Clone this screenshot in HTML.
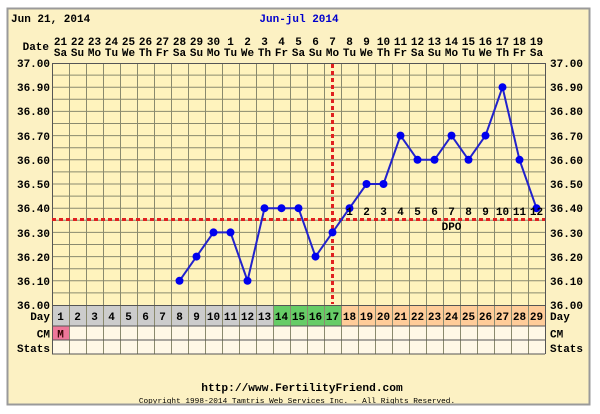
<!DOCTYPE html>
<html><head><meta charset="utf-8"><style>
html,body{margin:0;padding:0;background:#fff;}
svg{display:block;}
text{font-family:"Liberation Mono",monospace;font-weight:bold;font-size:11px;fill:#000;}
.c{text-anchor:middle;}
.r{text-anchor:end;}
</style></head><body>
<svg width="600" height="414" viewBox="0 0 600 414" xmlns="http://www.w3.org/2000/svg">
<rect x="0" y="0" width="600" height="414" fill="#fff"/>
<rect x="7.5" y="8.5" width="582" height="396" fill="#FCF1C3" stroke="#9a9a9a" stroke-width="2"/>
<text x="11" y="22">Jun 21, 2014</text>
<text x="299" y="22" class="c" style="fill:#0000CC">Jun-jul 2014</text>
<text x="49" y="50" class="r">Date</text>
<g class="c">
<text x="60.5" y="45" class="c">21</text><text x="77.5" y="45" class="c">22</text><text x="94.5" y="45" class="c">23</text><text x="111.5" y="45" class="c">24</text><text x="128.5" y="45" class="c">25</text><text x="145.5" y="45" class="c">26</text><text x="162.5" y="45" class="c">27</text><text x="179.5" y="45" class="c">28</text><text x="196.5" y="45" class="c">29</text><text x="213.5" y="45" class="c">30</text><text x="230.5" y="45" class="c">1</text><text x="247.5" y="45" class="c">2</text><text x="264.5" y="45" class="c">3</text><text x="281.5" y="45" class="c">4</text><text x="298.5" y="45" class="c">5</text><text x="315.5" y="45" class="c">6</text><text x="332.5" y="45" class="c">7</text><text x="349.5" y="45" class="c">8</text><text x="366.5" y="45" class="c">9</text><text x="383.5" y="45" class="c">10</text><text x="400.5" y="45" class="c">11</text><text x="417.5" y="45" class="c">12</text><text x="434.5" y="45" class="c">13</text><text x="451.5" y="45" class="c">14</text><text x="468.5" y="45" class="c">15</text><text x="485.5" y="45" class="c">16</text><text x="502.5" y="45" class="c">17</text><text x="519.5" y="45" class="c">18</text><text x="536.5" y="45" class="c">19</text>
<text x="60.5" y="56" class="c">Sa</text><text x="77.5" y="56" class="c">Su</text><text x="94.5" y="56" class="c">Mo</text><text x="111.5" y="56" class="c">Tu</text><text x="128.5" y="56" class="c">We</text><text x="145.5" y="56" class="c">Th</text><text x="162.5" y="56" class="c">Fr</text><text x="179.5" y="56" class="c">Sa</text><text x="196.5" y="56" class="c">Su</text><text x="213.5" y="56" class="c">Mo</text><text x="230.5" y="56" class="c">Tu</text><text x="247.5" y="56" class="c">We</text><text x="264.5" y="56" class="c">Th</text><text x="281.5" y="56" class="c">Fr</text><text x="298.5" y="56" class="c">Sa</text><text x="315.5" y="56" class="c">Su</text><text x="332.5" y="56" class="c">Mo</text><text x="349.5" y="56" class="c">Tu</text><text x="366.5" y="56" class="c">We</text><text x="383.5" y="56" class="c">Th</text><text x="400.5" y="56" class="c">Fr</text><text x="417.5" y="56" class="c">Sa</text><text x="434.5" y="56" class="c">Su</text><text x="451.5" y="56" class="c">Mo</text><text x="468.5" y="56" class="c">Tu</text><text x="485.5" y="56" class="c">We</text><text x="502.5" y="56" class="c">Th</text><text x="519.5" y="56" class="c">Fr</text><text x="536.5" y="56" class="c">Sa</text>
</g>
<rect x="52" y="63" width="493" height="242" fill="#FFF3BD"/>
<rect x="52" y="305" width="221" height="21" fill="#CCCCCC"/>
<rect x="273" y="305" width="68" height="21" fill="#66CC66"/>
<rect x="341" y="305" width="204" height="21" fill="#FFCC99"/>
<rect x="52" y="326" width="493" height="28" fill="#FFF8E6"/>
<rect x="52" y="326" width="17" height="14" fill="#EE7799"/>
<g stroke="#8a8a6e" stroke-width="1">
<path d="M52 75.1H545M52 87.2H545M52 99.3H545M52 111.4H545M52 123.5H545M52 135.6H545M52 147.7H545M52 159.8H545M52 171.9H545M52 184H545M52 196.1H545M52 208.2H545M52 220.3H545M52 232.4H545M52 244.5H545M52 256.6H545M52 268.7H545M52 280.8H545M52 292.9H545"/>
<path d="M69.5 63V354M86.5 63V354M103.5 63V354M120.5 63V354M137.5 63V354M154.5 63V354M171.5 63V354M188.5 63V354M205.5 63V354M222.5 63V354M239.5 63V354M256.5 63V354M273.5 63V354M290.5 63V354M307.5 63V354M324.5 63V354M341.5 63V354M358.5 63V354M375.5 63V354M392.5 63V354M409.5 63V354M426.5 63V354M443.5 63V354M460.5 63V354M477.5 63V354M494.5 63V354M511.5 63V354M528.5 63V354"/>
</g>
<g stroke="#555" stroke-width="1" fill="none">
<path d="M52 63.5H545M52 305.5H545M52 326H545M52 340H545M52 354H545M52.5 63V354M545.5 63V354"/>
</g>
<g>
<text x="50" y="67" class="r">37.00</text><text x="50" y="91" class="r">36.90</text><text x="50" y="115" class="r">36.80</text><text x="50" y="140" class="r">36.70</text><text x="50" y="164" class="r">36.60</text><text x="50" y="188" class="r">36.50</text><text x="50" y="212" class="r">36.40</text><text x="50" y="237" class="r">36.30</text><text x="50" y="261" class="r">36.20</text><text x="50" y="285" class="r">36.10</text><text x="50" y="309" class="r">36.00</text>
<text x="550" y="67">37.00</text><text x="550" y="91">36.90</text><text x="550" y="115">36.80</text><text x="550" y="140">36.70</text><text x="550" y="164">36.60</text><text x="550" y="188">36.50</text><text x="550" y="212">36.40</text><text x="550" y="237">36.30</text><text x="550" y="261">36.20</text><text x="550" y="285">36.10</text><text x="550" y="309">36.00</text>
</g>
<path d="M52 219.5H545" stroke="#E02020" stroke-width="3" stroke-dasharray="4,3"/>
<path d="M332.5 64V304" stroke="#E02020" stroke-width="3" stroke-dasharray="4,3"/>
<polyline fill="none" stroke="#2222CC" stroke-width="2" points="179.5,280.8 196.5,256.6 213.5,232.4 230.5,232.4 247.5,280.8 264.5,208.2 281.5,208.2 298.5,208.2 315.5,256.6 332.5,232.4 349.5,208.2 366.5,184 383.5,184 400.5,135.6 417.5,159.8 434.5,159.8 451.5,135.6 468.5,159.8 485.5,135.6 502.5,87.2 519.5,159.8 536.5,208.2"/>
<g fill="#0000EE">
<circle cx="179.5" cy="280.8" r="4"/><circle cx="196.5" cy="256.6" r="4"/><circle cx="213.5" cy="232.4" r="4"/><circle cx="230.5" cy="232.4" r="4"/><circle cx="247.5" cy="280.8" r="4"/><circle cx="264.5" cy="208.2" r="4"/><circle cx="281.5" cy="208.2" r="4"/><circle cx="298.5" cy="208.2" r="4"/><circle cx="315.5" cy="256.6" r="4"/><circle cx="332.5" cy="232.4" r="4"/><circle cx="349.5" cy="208.2" r="4"/><circle cx="366.5" cy="184" r="4"/><circle cx="383.5" cy="184" r="4"/><circle cx="400.5" cy="135.6" r="4"/><circle cx="417.5" cy="159.8" r="4"/><circle cx="434.5" cy="159.8" r="4"/><circle cx="451.5" cy="135.6" r="4"/><circle cx="468.5" cy="159.8" r="4"/><circle cx="485.5" cy="135.6" r="4"/><circle cx="502.5" cy="87.2" r="4"/><circle cx="519.5" cy="159.8" r="4"/><circle cx="536.5" cy="208.2" r="4"/>
</g>
<g>
<text x="349.5" y="215" class="c">1</text><text x="366.5" y="215" class="c">2</text><text x="383.5" y="215" class="c">3</text><text x="400.5" y="215" class="c">4</text><text x="417.5" y="215" class="c">5</text><text x="434.5" y="215" class="c">6</text><text x="451.5" y="215" class="c">7</text><text x="468.5" y="215" class="c">8</text><text x="485.5" y="215" class="c">9</text><text x="502.5" y="215" class="c">10</text><text x="519.5" y="215" class="c">11</text><text x="536.5" y="215" class="c">12</text>
<text x="451.5" y="230" class="c">DPO</text>
</g>
<text x="50" y="320" class="r">Day</text>
<text x="50" y="337.5" class="r">CM</text>
<text x="50" y="352" class="r">Stats</text>
<g>
<text x="60.5" y="320" class="c">1</text><text x="77.5" y="320" class="c">2</text><text x="94.5" y="320" class="c">3</text><text x="111.5" y="320" class="c">4</text><text x="128.5" y="320" class="c">5</text><text x="145.5" y="320" class="c">6</text><text x="162.5" y="320" class="c">7</text><text x="179.5" y="320" class="c">8</text><text x="196.5" y="320" class="c">9</text><text x="213.5" y="320" class="c">10</text><text x="230.5" y="320" class="c">11</text><text x="247.5" y="320" class="c">12</text><text x="264.5" y="320" class="c">13</text><text x="281.5" y="320" class="c">14</text><text x="298.5" y="320" class="c">15</text><text x="315.5" y="320" class="c">16</text><text x="332.5" y="320" class="c">17</text><text x="349.5" y="320" class="c">18</text><text x="366.5" y="320" class="c">19</text><text x="383.5" y="320" class="c">20</text><text x="400.5" y="320" class="c">21</text><text x="417.5" y="320" class="c">22</text><text x="434.5" y="320" class="c">23</text><text x="451.5" y="320" class="c">24</text><text x="468.5" y="320" class="c">25</text><text x="485.5" y="320" class="c">26</text><text x="502.5" y="320" class="c">27</text><text x="519.5" y="320" class="c">28</text><text x="536.5" y="320" class="c">29</text>
</g>
<text x="550" y="320">Day</text>
<text x="550" y="337.5">CM</text>
<text x="550" y="352">Stats</text>
<text x="60.5" y="337.5" class="c" style="fill:#330000">M</text>
<text x="302" y="391" class="c" style="font-size:11.2px">http://www.FertilityFriend.com</text>
<text x="297" y="403" class="c" style="font-size:7.75px;font-weight:normal">Copyright 1998-2014 Tamtris Web Services Inc. - All Rights Reserved.</text>
<path d="M7 404.5H590" stroke="#9a9a9a" stroke-width="2"/>
</svg>
</body></html>
